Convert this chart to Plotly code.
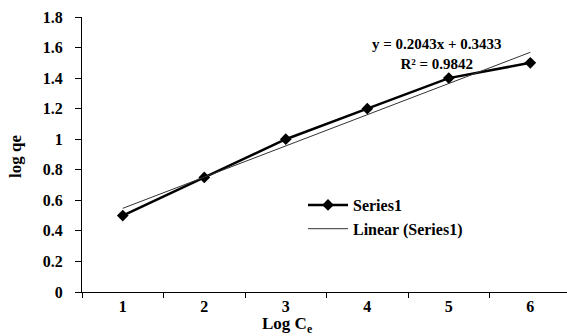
import numpy as np
import plotly.graph_objects as go

x_vals = [1, 2, 3, 4, 5, 6]
y_vals = [0.5, 0.75, 1.0, 1.2, 1.4, 1.5]
x_ticklabels = ["1", "2", "3", "4", "5", "6"]
y_tickvals = [0, 0.2, 0.4, 0.6, 0.8, 1, 1.2, 1.4, 1.6, 1.8]
y_ticklabels = ["0", "0.2", "0.4", "0.6", "0.8", "1", "1.2", "1.4", "1.6", "1.8"]

slope, intercept = np.polyfit(x_vals, y_vals, 1)
trend_y = [slope * xv + intercept for xv in x_vals]
r2 = np.corrcoef(x_vals, y_vals)[0, 1] ** 2

FONT = "Liberation Serif, Times New Roman, serif"
L, T, B, W, H = 82, 17, 44, 567, 336
PW, PH = W - L, H - T - B

fig = go.Figure()
fig.add_trace(go.Scatter(
    x=x_vals, y=y_vals, mode="lines+markers", name="<b>Series1</b>",
    line=dict(color="black", width=2.5),
    marker=dict(symbol="diamond", size=9, color="black"),
))
fig.add_trace(go.Scatter(
    x=x_vals, y=trend_y, mode="lines", name="<b>Linear (Series1)</b>",
    line=dict(color="#333333", width=1),
))

fig.update_layout(
    width=W, height=H,
    margin=dict(l=L, r=0, t=T, b=B, autoexpand=False),
    paper_bgcolor="white", plot_bgcolor="white",
    font=dict(family=FONT, color="black", size=16),
    showlegend=True,
    legend=dict(x=(303 - L) / PW, y=(292 - 188) / PH, xanchor="left", yanchor="top",
                bgcolor="rgba(0,0,0,0)", font=dict(size=16, family=FONT),
                itemwidth=40, tracegroupgap=0),
    xaxis=dict(
        range=[0.5, 6.45], showgrid=False, zeroline=False, automargin=False,
        showline=True, linecolor="black", linewidth=1,
        tickmode="array", tickvals=x_vals,
        ticktext=["<b>%s</b>" % t for t in x_ticklabels],
        ticks="", ticklen=0, ticklabelstandoff=0,
        minor=dict(tickmode="array", tickvals=[0.5, 1.5, 2.5, 3.5, 4.5, 5.5],
                   ticks="outside", ticklen=5, tickcolor="black", showgrid=False),
        tickfont=dict(size=16, family=FONT),
    ),
    yaxis=dict(
        range=[0, 1.8], showgrid=False, zeroline=False, automargin=False,
        showline=True, linecolor="black", linewidth=1,
        tickmode="array", tickvals=y_tickvals,
        ticktext=["<b>%s</b>" % t for t in y_ticklabels],
        ticks="outside", ticklen=6, tickcolor="black", ticklabelstandoff=9,
        tickfont=dict(size=16, family=FONT),
    ),
)

fig.add_annotation(
    text="<b>log qe</b>", xref="paper", yref="paper", textangle=-90,
    x=-(L - 16) / PW, y=(292 - 157) / PH, xanchor="center", yanchor="middle",
    showarrow=False, font=dict(size=17, family=FONT),
)
fig.add_annotation(
    text="<b>Log C<sub>e</sub></b>", xref="paper", yref="paper",
    x=(287 - L) / PW, y=-(325 - 292) / PH, xanchor="center", yanchor="middle",
    showarrow=False, font=dict(size=17, family=FONT),
)
fig.add_annotation(
    text="<b>y = %.4fx + %.4f</b><br><b>R² = %.4f</b>" % (slope, intercept, r2),
    xref="paper", yref="paper",
    x=(437 - L) / PW, y=(292 - 54) / PH, xanchor="center", yanchor="middle",
    showarrow=False, font=dict(size=15, family=FONT), align="center",
)

fig.write_html("out.html", config={"displayModeBar": False},
               post_script="document.body.style.margin='0';")
